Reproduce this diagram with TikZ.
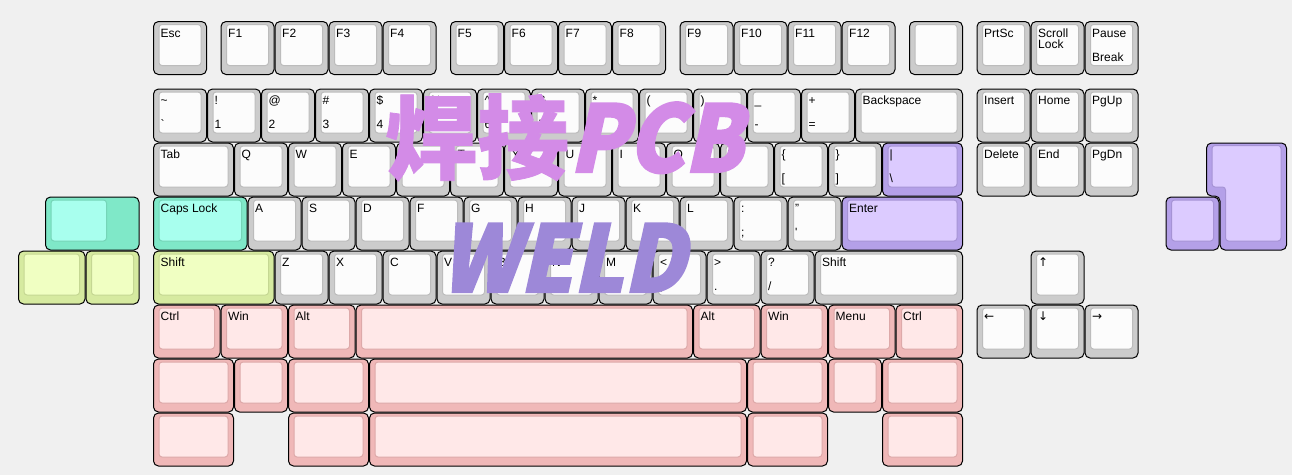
\documentclass[tikz,border=0pt]{standalone}
\usepackage{fontspec}
\setmainfont{Liberation Sans}
\newfontfamily\arrowfont{DejaVu Sans}
\newfontfamily\cjkfont{Noto Sans CJK SC}[FakeBold=0.8]
\newfontfamily\cjkslant{Noto Sans CJK SC}[FakeSlant=0.22, FakeStretch=0.92, FakeBold=2.5]
\definecolor{bg}{HTML}{F0F0F0}
\definecolor{gO}{HTML}{CCCCCC}\definecolor{gI}{HTML}{FCFCFC}
\definecolor{tO}{HTML}{7FE8C8}\definecolor{tI}{HTML}{A8FFEE}
\definecolor{lO}{HTML}{D6EAA0}\definecolor{lI}{HTML}{F0FFC2}
\definecolor{pO}{HTML}{F0B8B8}\definecolor{pI}{HTML}{FFE8E8}
\definecolor{vO}{HTML}{B4A0E8}\definecolor{vI}{HTML}{DCCBFF}
\definecolor{wmA}{HTML}{D38BE7}\definecolor{wmB}{HTML}{9D88D8}
\tikzset{
 keyout/.style={draw=black, line width=1pt, rounded corners=5pt},
 keyin/.style={line width=1pt, rounded corners=3pt},
 leg/.style={anchor=base west, inner sep=0pt, font=\fontsize{12}{12}\selectfont, text=black},
 wmark/.style={anchor=base west, inner sep=0pt, font=\fontsize{92}{92}\selectfont},
}
\newcounter{kc}
\newcommand\K[7]{%
 \stepcounter{kc}%
 \pgfmathsetmacro\kxa{153+54*(#1)}%
 \pgfmathsetmacro\kya{21+54*(#2)}%
 \pgfmathsetmacro\kxb{153+54*(#1+#3)}%
 \pgfmathsetmacro\kyb{21+54*(#2+#4)}%
 \draw[keyout, fill=#5O] (\kxa+0.5,\kya+0.5) rectangle (\kxb-0.5,\kyb-0.5);
 \draw[keyin, fill=#5I, draw=#5O!92!black] (\kxa+6,\kya+3.5) rectangle (\kxb-6,\kyb-9.5);
 \node[leg] (kt\arabic{kc}) at (\kxa+7.5,\kya+16) {#6};
 \node[leg] (kb\arabic{kc}) at (\kxa+7.5,\kya+40) {#7};
}
\begin{document}
\begin{tikzpicture}[x=1pt,y=-1pt]
\useasboundingbox (0,0) rectangle (1292,475);
\fill[bg] (0,0) rectangle (1292,475);
% row 0
\K{0}{0}{1}{1}{g}{Esc}{}
\K{1.25}{0}{1}{1}{g}{F1}{}
\K{2.25}{0}{1}{1}{g}{F2}{}
\K{3.25}{0}{1}{1}{g}{F3}{}
\K{4.25}{0}{1}{1}{g}{F4}{}
\K{5.5}{0}{1}{1}{g}{F5}{}
\K{6.5}{0}{1}{1}{g}{F6}{}
\K{7.5}{0}{1}{1}{g}{F7}{}
\K{8.5}{0}{1}{1}{g}{F8}{}
\K{9.75}{0}{1}{1}{g}{F9}{}
\K{10.75}{0}{1}{1}{g}{F10}{}
\K{11.75}{0}{1}{1}{g}{F11}{}
\K{12.75}{0}{1}{1}{g}{F12}{}
\K{14}{0}{1}{1}{g}{}{}
\K{15.25}{0}{1}{1}{g}{PrtSc}{}
\K{16.25}{0}{1}{1}{g}{Scroll}{}
\node[leg] (lock) at (153+54*16.25+7.5,21+27.7) {Lock};
\K{17.25}{0}{1}{1}{g}{Pause}{Break}
% row 1
\K{0}{1.25}{1}{1}{g}{\textasciitilde}{\textasciigrave}
\K{1}{1.25}{1}{1}{g}{!}{1}
\K{2}{1.25}{1}{1}{g}{@}{2}
\K{3}{1.25}{1}{1}{g}{\#}{3}
\K{4}{1.25}{1}{1}{g}{\$}{4}
\K{5}{1.25}{1}{1}{g}{\%}{5}
\K{6}{1.25}{1}{1}{g}{\textasciicircum}{6}
\K{7}{1.25}{1}{1}{g}{\&}{7}
\K{8}{1.25}{1}{1}{g}{*}{8}
\K{9}{1.25}{1}{1}{g}{(}{9}
\K{10}{1.25}{1}{1}{g}{)}{0}
\K{11}{1.25}{1}{1}{g}{\_}{-}
\K{12}{1.25}{1}{1}{g}{+}{=}
\K{13}{1.25}{2}{1}{g}{Backspace}{}
\K{15.25}{1.25}{1}{1}{g}{Insert}{}
\K{16.25}{1.25}{1}{1}{g}{Home}{}
\K{17.25}{1.25}{1}{1}{g}{PgUp}{}
% row 2
\K{0}{2.25}{1.5}{1}{g}{Tab}{}
\K{1.5}{2.25}{1}{1}{g}{Q}{}
\K{2.5}{2.25}{1}{1}{g}{W}{}
\K{3.5}{2.25}{1}{1}{g}{E}{}
\K{4.5}{2.25}{1}{1}{g}{R}{}
\K{5.5}{2.25}{1}{1}{g}{T}{}
\K{6.5}{2.25}{1}{1}{g}{Y}{}
\K{7.5}{2.25}{1}{1}{g}{U}{}
\K{8.5}{2.25}{1}{1}{g}{I}{}
\K{9.5}{2.25}{1}{1}{g}{O}{}
\K{10.5}{2.25}{1}{1}{g}{P}{}
\K{11.5}{2.25}{1}{1}{g}{\{}{[}
\K{12.5}{2.25}{1}{1}{g}{\}}{]}
\K{13.5}{2.25}{1.5}{1}{v}{\textbar}{\textbackslash}
\K{15.25}{2.25}{1}{1}{g}{Delete}{}
\K{16.25}{2.25}{1}{1}{g}{End}{}
\K{17.25}{2.25}{1}{1}{g}{PgDn}{}
% row 3
\K{0}{3.25}{1.75}{1}{t}{Caps Lock}{}
\K{1.75}{3.25}{1}{1}{g}{A}{}
\K{2.75}{3.25}{1}{1}{g}{S}{}
\K{3.75}{3.25}{1}{1}{g}{D}{}
\K{4.75}{3.25}{1}{1}{g}{F}{}
\K{5.75}{3.25}{1}{1}{g}{G}{}
\K{6.75}{3.25}{1}{1}{g}{H}{}
\K{7.75}{3.25}{1}{1}{g}{J}{}
\K{8.75}{3.25}{1}{1}{g}{K}{}
\K{9.75}{3.25}{1}{1}{g}{L}{}
\K{10.75}{3.25}{1}{1}{g}{:}{;}
\K{11.75}{3.25}{1}{1}{g}{"}{\textquotesingle}
\K{12.75}{3.25}{2.25}{1}{v}{Enter}{}
\K{18.75}{3.25}{1}{1}{v}{}{}
% stepped teal key
\draw[keyout, fill=tO] (45.5,197) rectangle (139,250);
\draw[keyin, fill=tI, draw=tO!92!black] (51,200) rectangle (106.5,241);
% L-shaped purple key
\draw[keyout, fill=vO] (1206.5,143) -- (1286.5,143) -- (1286.5,250) -- (1220,250) -- (1220,196) -- (1206.5,196) -- cycle;
\draw[keyin, fill=vI, draw=vO!92!black] (1212,145.5) -- (1281,145.5) -- (1281,241) -- (1225.5,241) -- (1225.5,187) -- (1212,187) -- cycle;
% row 4
\K{-2.5}{4.25}{1.25}{1}{l}{}{}
\K{-1.25}{4.25}{1}{1}{l}{}{}
\K{0}{4.25}{2.25}{1}{l}{Shift}{}
\K{2.25}{4.25}{1}{1}{g}{Z}{}
\K{3.25}{4.25}{1}{1}{g}{X}{}
\K{4.25}{4.25}{1}{1}{g}{C}{}
\K{5.25}{4.25}{1}{1}{g}{V}{}
\K{6.25}{4.25}{1}{1}{g}{B}{}
\K{7.25}{4.25}{1}{1}{g}{N}{}
\K{8.25}{4.25}{1}{1}{g}{M}{}
\K{9.25}{4.25}{1}{1}{g}{<}{,}
\K{10.25}{4.25}{1}{1}{g}{>}{.}
\K{11.25}{4.25}{1}{1}{g}{?}{/}
\K{12.25}{4.25}{2.75}{1}{g}{Shift}{}
\K{16.25}{4.25}{1}{1}{g}{{\arrowfont ↑}}{}
% row 5
\K{0}{5.25}{1.25}{1}{p}{Ctrl}{}
\K{1.25}{5.25}{1.25}{1}{p}{Win}{}
\K{2.5}{5.25}{1.25}{1}{p}{Alt}{}
\K{3.75}{5.25}{6.25}{1}{p}{}{}
\K{10}{5.25}{1.25}{1}{p}{Alt}{}
\K{11.25}{5.25}{1.25}{1}{p}{Win}{}
\K{12.5}{5.25}{1.25}{1}{p}{Menu}{}
\K{13.75}{5.25}{1.25}{1}{p}{Ctrl}{}
\K{15.25}{5.25}{1}{1}{g}{{\arrowfont ←}}{}
\K{16.25}{5.25}{1}{1}{g}{{\arrowfont ↓}}{}
\K{17.25}{5.25}{1}{1}{g}{{\arrowfont →}}{}
% row 6
\K{0}{6.25}{1.5}{1}{p}{}{}
\K{1.5}{6.25}{1}{1}{p}{}{}
\K{2.5}{6.25}{1.5}{1}{p}{}{}
\K{4}{6.25}{7}{1}{p}{}{}
\K{11}{6.25}{1.5}{1}{p}{}{}
\K{12.5}{6.25}{1}{1}{p}{}{}
\K{13.5}{6.25}{1.5}{1}{p}{}{}
% row 7
\K{0}{7.25}{1.5}{1}{p}{}{}
\K{2.5}{7.25}{1.5}{1}{p}{}{}
\K{4}{7.25}{7}{1}{p}{}{}
\K{11}{7.25}{1.5}{1}{p}{}{}
\K{13.5}{7.25}{1.5}{1}{p}{}{}
% watermark texts
\node[wmark, text=wmA] (wm1) at (385,172) {{\cjkfont\bfseries 焊接}{\cjkslant\bfseries PCB}};
\node[wmark, text=wmB] (wm2) at (440,292) {\cjkslant\bfseries WELD};
\end{tikzpicture}
\end{document}
